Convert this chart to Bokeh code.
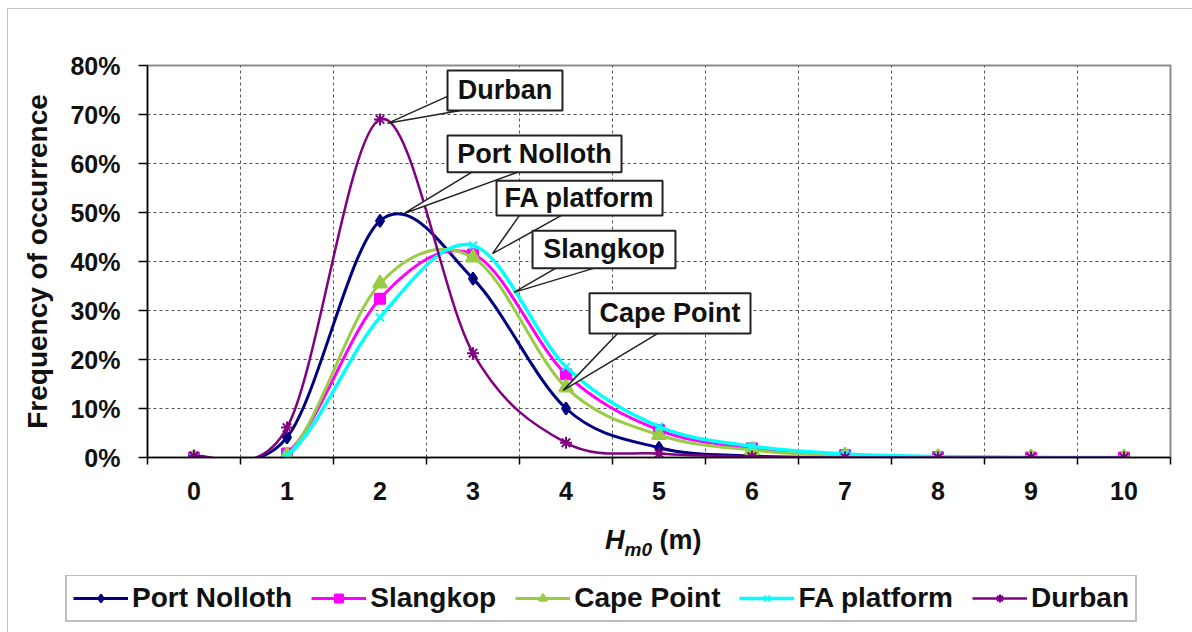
from bokeh.plotting import figure
from bokeh.layouts import column, row
from bokeh.models import (Range1d, LinearAxis, FixedTicker, NumeralTickFormatter, Grid,
                          Legend, LegendItem, Label, Div, Spacer)
from bokeh.embed import file_html
from bokeh.resources import INLINE

# ---------------- data (frequency of occurrence, %) ----------------
hm0 = [0, 1, 2, 3, 4, 5, 6, 7, 8, 9, 10]
port_nolloth = [0.0, 4.1, 48.3, 36.5, 10.0, 2.0, 0.3, 0.05, 0.0, 0.0, 0.0]
slangkop = [0.0, 0.8, 32.4, 41.5, 17.0, 5.6, 1.9, 0.5, 0.1, 0.0, 0.0]
cape_point = [0.0, 0.4, 35.5, 40.8, 14.3, 4.6, 1.5, 0.4, 0.1, 0.0, 0.0]
fa_platform = [0.0, 0.4, 28.6, 43.3, 18.5, 6.3, 2.3, 0.7, 0.2, 0.05, 0.0]
durban = [0.3, 6.1, 69.0, 21.3, 3.0, 0.8, 0.15, 0.0, 0.0, 0.0, 0.0]
series_names = ["Port Nolloth", "Slangkop", "Cape Point", "FA platform", "Durban"]
y_ticks = [0, 10, 20, 30, 40, 50, 60, 70, 80]

FONT = "Liberation Sans"
INK = "#111111"

series = [port_nolloth, slangkop, cape_point, fa_platform, durban]
colors = ["#000080", "#FF00FF", "#99CC44", "#00FFFF", "#800080"]
markers = ["diamond", "square", "triangle", "x", "asterisk"]
msizes = [12, 10, 14, 11, 12]
lwidths = [3, 3, 3, 3.5, 2.5]

W = 1176
p = figure(width=W, height=503, output_backend="svg", toolbar_location=None,
           x_range=Range1d(-0.5, 10.5), y_range=Range1d(0, 0.8),
           x_axis_type=None, min_border_left=139, min_border_right=14,
           min_border_top=56, min_border_bottom=55)
p.frame_align = False
p.background_fill_color = "white"
p.border_fill_color = "white"
p.outline_line_color = "#8c8c8c"
p.outline_line_width = 2
p.xgrid.visible = False
p.ygrid.visible = False

# y axis
ya = p.yaxis[0]
ya.ticker = FixedTicker(ticks=[v / 100 for v in y_ticks])
ya.formatter = NumeralTickFormatter(format="0%")
ya.major_tick_out = 9
ya.major_tick_in = 0
ya.minor_tick_line_color = None
ya.axis_line_color = "black"
ya.axis_line_width = 1.5
ya.major_tick_line_color = "black"
ya.major_tick_line_width = 1.5
ya.major_label_text_font = FONT
ya.major_label_text_font_style = "bold"
ya.major_label_text_font_size = "25px"
ya.major_label_text_color = INK
ya.major_label_standoff = 18
ya.axis_label = "Frequency of occurrence"
ya.axis_label_text_font = FONT
ya.axis_label_text_font_style = "bold"
ya.axis_label_text_font_size = "28px"
ya.axis_label_text_color = INK
ya.axis_label_standoff = 14

# x axis: labels at category centres, tick marks at category boundaries
bounds = [i - 0.5 for i in range(len(hm0) + 1)]
xa = LinearAxis(ticker=FixedTicker(ticks=hm0, minor_ticks=bounds),
                major_tick_line_color=None, major_tick_out=7, major_tick_in=0,
                minor_tick_line_color="black", minor_tick_line_width=1.5,
                minor_tick_out=7, minor_tick_in=0,
                axis_line_color="black", axis_line_width=1.5,
                major_label_text_font=FONT, major_label_text_font_style="bold",
                major_label_text_font_size="25px", major_label_text_color=INK,
                major_label_standoff=17)
p.add_layout(xa, "below")

# grids
grid_style = dict(grid_line_color="#555555", grid_line_width=1, grid_line_dash="3 3")
p.add_layout(Grid(dimension=0, ticker=FixedTicker(ticks=bounds[1:-1]), **grid_style))
p.add_layout(Grid(dimension=1, ticker=FixedTicker(ticks=[v / 100 for v in y_ticks[1:-1]]), **grid_style))


def bezier_parts(xs, ys):
    n = len(xs)
    out = dict(x0=[], y0=[], x1=[], y1=[], cx0=[], cy0=[], cx1=[], cy1=[])
    for i in range(n - 1):
        a = max(i - 1, 0)
        b = min(i + 2, n - 1)
        out["x0"].append(xs[i]); out["y0"].append(ys[i])
        out["x1"].append(xs[i + 1]); out["y1"].append(ys[i + 1])
        out["cx0"].append(xs[i] + (xs[i + 1] - xs[a]) / 6)
        out["cy0"].append(ys[i] + (ys[i + 1] - ys[a]) / 6)
        out["cx1"].append(xs[i + 1] - (xs[b] - xs[i]) / 6)
        out["cy1"].append(ys[i + 1] - (ys[b] - ys[i]) / 6)
    return out


for name, vals, col, mk, ms, lw in zip(series_names, series, colors, markers, msizes, lwidths):
    ys = [v / 100 for v in vals]
    p.bezier(line_color=col, line_width=lw, **bezier_parts(hm0, ys))
    p.scatter(hm0, ys, marker=mk, size=ms, fill_color=col, line_color=col, line_width=2)

# callouts (annotation geometry in data units)
callouts = [
    ("Durban", (2.726, 3.962, 0.708, 0.790),
     [(2.726, 0.737), (2.08, 0.682), (2.866, 0.708), (2.726, 0.708)]),
    ("Port Nolloth", (2.726, 4.597, 0.582, 0.657),
     [(2.984, 0.582), (2.26, 0.498), (3.478, 0.582)]),
    ("FA platform", (3.253, 5.038, 0.494, 0.565),
     [(3.50, 0.494), (3.21, 0.416), (3.952, 0.494)]),
    ("Slangkop", (3.640, 5.177, 0.386, 0.463),
     [(3.887, 0.386), (3.44, 0.337), (4.296, 0.386)]),
    ("Cape Point", (4.253, 5.984, 0.253, 0.335),
     [(4.554, 0.253), (3.97, 0.137), (4.984, 0.253)]),
]
for text, (l, r, b, t), wedge in callouts:
    p.patch([w[0] for w in wedge], [w[1] for w in wedge], fill_color="white",
            line_color="#222222", line_width=1.5)
    p.quad(left=[l], right=[r], bottom=[b], top=[t], fill_color="white",
           line_color="#222222", line_width=2)
    p.add_layout(Label(x=(l + r) / 2, y=(b + t) / 2, text=text, text_align="center",
                       text_baseline="middle", text_font=FONT, text_font_style="bold",
                       text_font_size="27px", text_color=INK))

# x axis title  H_m0 (m)
title_div = Div(width=W, height=53, text=(
    '<div style="position:relative;width:%dpx;height:53px;font-family:\'Liberation Sans\';'
    'font-weight:bold;color:%s;">'
    '<span style="position:absolute;left:592px;top:8px;font-size:27px;line-height:30px;'
    'white-space:nowrap;"><i>H</i><i style="font-size:19px;position:relative;top:7px;">m0</i>'
    '&nbsp;(m)</span></div>') % (W, INK))

# legend in its own strip
lf = figure(width=W, height=59, output_backend="svg", toolbar_location=None,
            x_range=Range1d(0, 1), y_range=Range1d(0, 1), x_axis_type=None,
            y_axis_type=None, min_border=0)
lf.frame_align = False
lf.outline_line_color = None
lf.xgrid.visible = False
lf.ygrid.visible = False
items = []
for name, col, mk, lw in zip(series_names, colors, markers, lwidths):
    # legend swatches only: one point kept outside the strip's visible range
    lr = lf.line(x=[-5, -4], y=[-5, -5], line_color=col, line_width=lw)
    sr = lf.scatter(x=[-5], y=[-5], marker=mk, size=9, fill_color=col, line_color=col,
                    line_width=2)
    items.append(LegendItem(label=name, renderers=[lr, sr]))
legend = Legend(items=items, orientation="horizontal", location=(57, 12),
                label_text_font=FONT, label_text_font_style="bold",
                label_text_font_size="28px", label_text_color=INK,
                glyph_width=55, glyph_height=20, label_standoff=4, spacing=19,
                padding=6, margin=0, border_line_color="#808080", border_line_width=2,
                background_fill_color="white", background_fill_alpha=1)
lf.add_layout(legend)

inner = column(p, title_div, lf, spacing=0,
               styles={"border-left": "1px solid #c4c4c4", "border-top": "1px solid #c4c4c4"})
layout = row(Spacer(width=7), column(Spacer(height=8), inner, spacing=0), spacing=0)

open("out.html", "w").write(file_html(layout, INLINE))
